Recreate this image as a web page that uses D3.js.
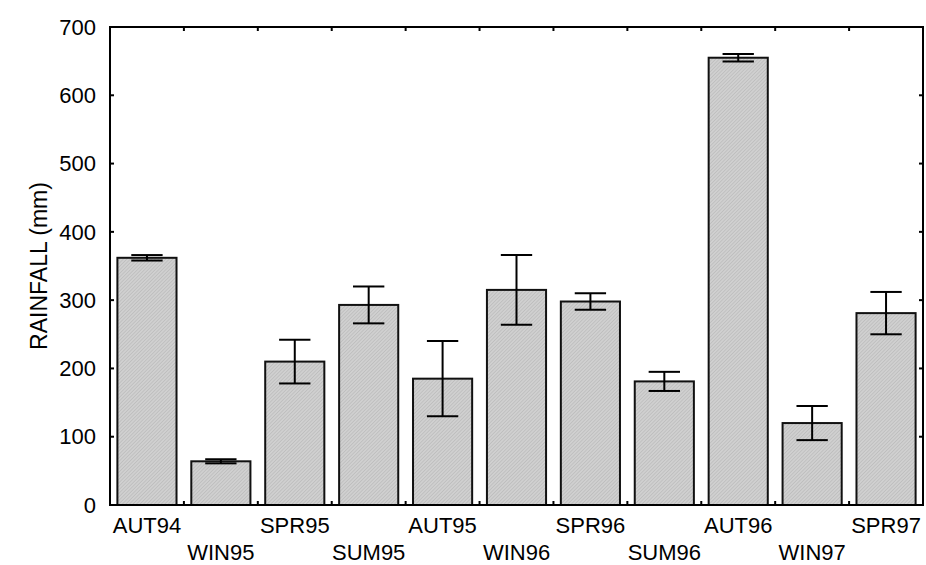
<!DOCTYPE html>
<html>
<head>
<meta charset="utf-8">
<script src="https://cdn.jsdelivr.net/npm/d3@7"></script>
<style>
  html, body { margin: 0; padding: 0; background: #fff; }
  svg text { font-family: "Liberation Sans", Arial, sans-serif; fill: #000; }
</style>
</head>
<body>
<svg id="chart" width="926" height="565"></svg>
<script>
// Seasonal rainfall totals with error bars
const seasons = ["AUT94", "WIN95", "SPR95", "SUM95", "AUT95", "WIN96", "SPR96", "SUM96", "AUT96", "WIN97", "SPR97"];
const rainfall = [362, 64, 210, 293, 185, 315, 298, 181, 655, 120, 281];
const rainfallErr = [4, 3, 32, 27, 55, 51, 12, 14, 5.5, 25, 31];
const yTicks = [0, 100, 200, 300, 400, 500, 600, 700];
const yLabel = "RAINFALL (mm)";

const svg = d3.select("#chart");
const plotL = 110, plotR = 923, plotT = 27, plotB = 505;

const x = d3.scaleBand().domain(seasons).range([plotL, plotR])
  .paddingInner(0.2).paddingOuter(0.1);
const y = d3.scaleLinear().domain([0, 700]).range([plotB, plotT]);

// fine hatched grey fill for the bars
const defs = svg.append("defs");
const pat = defs.append("pattern")
  .attr("id", "hatch").attr("patternUnits", "userSpaceOnUse")
  .attr("width", 2.5).attr("height", 2.5)
  .attr("patternTransform", "rotate(45)");
pat.append("rect").attr("width", 2.5).attr("height", 2.5).attr("fill", "#d0d0d0");
pat.append("line").attr("x1", 0).attr("y1", 0).attr("x2", 0).attr("y2", 2.5)
  .attr("stroke", "#b2b2b2").attr("stroke-width", 1);

// bars
svg.append("g").selectAll("rect").data(seasons).join("rect")
  .attr("x", d => x(d))
  .attr("y", (d, i) => y(rainfall[i]))
  .attr("width", x.bandwidth())
  .attr("height", (d, i) => y(0) - y(rainfall[i]))
  .attr("fill", "url(#hatch)")
  .attr("stroke", "#111").attr("stroke-width", 2);

// error bars
const capW = x.bandwidth() * 0.53;
const eg = svg.append("g").attr("stroke", "#000").attr("stroke-width", 2);
seasons.forEach((s, i) => {
  const cx = x(s) + x.bandwidth() / 2;
  const hi = y(rainfall[i] + rainfallErr[i]);
  const lo = y(rainfall[i] - rainfallErr[i]);
  eg.append("line").attr("x1", cx).attr("x2", cx).attr("y1", hi).attr("y2", lo);
  eg.append("line").attr("x1", cx - capW / 2).attr("x2", cx + capW / 2).attr("y1", hi).attr("y2", hi);
  eg.append("line").attr("x1", cx - capW / 2).attr("x2", cx + capW / 2).attr("y1", lo).attr("y2", lo);
});

// frame
svg.append("rect").attr("x", plotL).attr("y", plotT)
  .attr("width", plotR - plotL).attr("height", plotB - plotT)
  .attr("fill", "none").attr("stroke", "#000").attr("stroke-width", 2);

// y axis ticks (inward, both sides)
const tickLen = 4;
const axisG = svg.append("g").attr("stroke", "#000").attr("stroke-width", 2);
yTicks.forEach(t => {
  axisG.append("line").attr("x1", plotL).attr("x2", plotL + tickLen).attr("y1", y(t)).attr("y2", y(t));
  axisG.append("line").attr("x1", plotR).attr("x2", plotR - tickLen).attr("y1", y(t)).attr("y2", y(t));
});
// category boundary ticks (top and bottom, inward)
const step = x.step();
const x0 = x(seasons[0]) - x.paddingOuter() * step;
d3.range(1, seasons.length).forEach(k => {
  const bx = x0 + k * step;
  axisG.append("line").attr("x1", bx).attr("x2", bx).attr("y1", plotT).attr("y2", plotT + tickLen);
  axisG.append("line").attr("x1", bx).attr("x2", bx).attr("y1", plotB).attr("y2", plotB - tickLen);
});

// y tick labels
svg.append("g").selectAll("text").data(yTicks).join("text")
  .attr("x", 96).attr("y", d => y(d)).attr("dy", "0.35em")
  .attr("text-anchor", "end").attr("font-size", 22)
  .text(d => d);

// category labels, staggered over two rows
svg.append("g").selectAll("text").data(seasons).join("text")
  .attr("x", d => x(d) + x.bandwidth() / 2)
  .attr("y", (d, i) => i % 2 === 0 ? 533 : 560)
  .attr("text-anchor", "middle").attr("font-size", 22)
  .text(d => d);

// y axis title
svg.append("text")
  .attr("transform", `translate(47, ${(plotT + plotB) / 2}) rotate(-90)`)
  .attr("text-anchor", "middle").attr("font-size", 23)
  .text(yLabel);
</script>
</body>
</html>
